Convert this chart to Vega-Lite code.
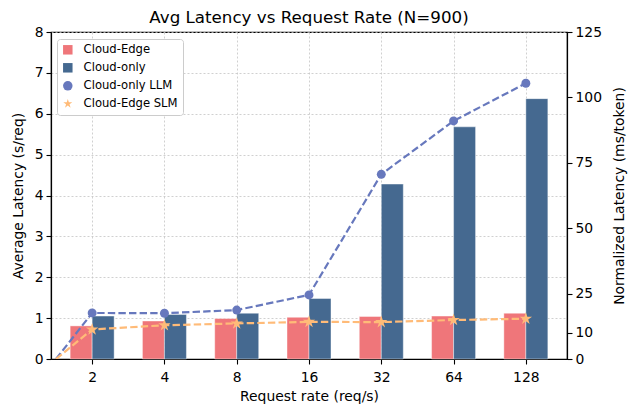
{
  "$schema": "https://vega.github.io/schema/vega-lite/v6.json",
  "width": 516,
  "height": 327,
  "autosize": {"type": "none"},
  "padding": {"left": 51, "top": 32, "right": 70, "bottom": 56},
  "background": "white",
  "title": {"text": "Avg Latency vs Request Rate (N=900)", "fontSize": 16.7, "font": "DejaVu Sans", "fontWeight": "normal", "offset": -2, "anchor": "middle", "color": "black"},
  "config": {
    "view": {"stroke": "black", "strokeWidth": 1.2},
    "axis": {"labelFont": "DejaVu Sans", "titleFont": "DejaVu Sans", "labelFontSize": 13.9, "titleFontSize": 13.9, "titleFontWeight": "normal", "labelColor": "black", "titleColor": "black", "domainColor": "black", "tickColor": "black", "tickSize": 5, "domainWidth": 1.2, "tickWidth": 1.1, "gridColor": "#c4c4c4", "gridDash": [2, 2], "gridWidth": 0.8, "labelPadding": 3}
  },
  "data": {"values": [
    {"rate": 2, "series": "Cloud-Edge", "value": 0.81},
    {"rate": 4, "series": "Cloud-Edge", "value": 0.93},
    {"rate": 8, "series": "Cloud-Edge", "value": 0.99},
    {"rate": 16, "series": "Cloud-Edge", "value": 1.02},
    {"rate": 32, "series": "Cloud-Edge", "value": 1.04},
    {"rate": 64, "series": "Cloud-Edge", "value": 1.05},
    {"rate": 128, "series": "Cloud-Edge", "value": 1.12},
    {"rate": 2, "series": "Cloud-only", "value": 1.05},
    {"rate": 4, "series": "Cloud-only", "value": 1.09},
    {"rate": 8, "series": "Cloud-only", "value": 1.12},
    {"rate": 16, "series": "Cloud-only", "value": 1.48},
    {"rate": 32, "series": "Cloud-only", "value": 4.28},
    {"rate": 64, "series": "Cloud-only", "value": 5.68},
    {"rate": 128, "series": "Cloud-only", "value": 6.37},
    {"rate": 1.41421, "series": "Cloud-only LLM", "value": 0},
    {"rate": 2, "series": "Cloud-only LLM", "value": 17.6},
    {"rate": 4, "series": "Cloud-only LLM", "value": 17.5},
    {"rate": 8, "series": "Cloud-only LLM", "value": 18.7},
    {"rate": 16, "series": "Cloud-only LLM", "value": 24.5},
    {"rate": 32, "series": "Cloud-only LLM", "value": 70.6},
    {"rate": 64, "series": "Cloud-only LLM", "value": 91.0},
    {"rate": 128, "series": "Cloud-only LLM", "value": 105.4},
    {"rate": 1.41421, "series": "Cloud-Edge SLM", "value": 0},
    {"rate": 2, "series": "Cloud-Edge SLM", "value": 11.3},
    {"rate": 4, "series": "Cloud-Edge SLM", "value": 12.9},
    {"rate": 8, "series": "Cloud-Edge SLM", "value": 13.6},
    {"rate": 16, "series": "Cloud-Edge SLM", "value": 14.2},
    {"rate": 32, "series": "Cloud-Edge SLM", "value": 14.1},
    {"rate": 64, "series": "Cloud-Edge SLM", "value": 14.9},
    {"rate": 128, "series": "Cloud-Edge SLM", "value": 15.4}
  ]},
  "encoding": {
    "x": {"field": "rate", "type": "quantitative",
      "scale": {"type": "log", "base": 2, "domain": [1.41421, 181.019], "nice": false, "zero": false},
      "axis": {"title": "Request rate (req/s)", "values": [2, 4, 8, 16, 32, 64, 128], "format": "d", "grid": true, "labelPadding": 6, "titlePadding": 6}},
    "color": {"field": "series", "type": "nominal",
      "scale": {"domain": ["Cloud-Edge", "Cloud-only", "Cloud-only LLM", "Cloud-Edge SLM"], "range": ["#ef767a", "#456990", "#6778bd", "#ffbb78"]},
      "legend": {"title": null, "orient": "none", "legendX": 6, "legendY": 7, "fillColor": "white", "strokeColor": "#cccccc", "cornerRadius": 3, "padding": 5, "labelFont": "DejaVu Sans", "labelFontSize": 11.6, "labelColor": "black", "symbolSize": 90, "rowPadding": 5, "labelOffset": 10, "symbolStrokeWidth": 0, "symbolOpacity": 1}}
  },
  "layer": [
    {
      "encoding": {
        "y": {"field": "value", "type": "quantitative",
          "scale": {"domain": [0, 8], "nice": false},
          "axis": {"orient": "left", "title": "Average Latency (s/req)", "values": [0, 1, 2, 3, 4, 5, 6, 7, 8], "grid": true, "titlePadding": 9}}
      },
      "layer": [
        {"transform": [{"filter": "datum.series === 'Cloud-Edge'"}],
         "mark": {"type": "bar", "size": 22, "xOffset": -11, "stroke": "white", "strokeWidth": 0.6, "strokeOpacity": 0.7}},
        {"transform": [{"filter": "datum.series === 'Cloud-only'"}],
         "mark": {"type": "bar", "size": 22, "xOffset": 11, "stroke": "white", "strokeWidth": 0.6, "strokeOpacity": 0.7}}
      ]
    },
    {
      "encoding": {
        "y": {"field": "value", "type": "quantitative",
          "scale": {"domain": [0, 125], "nice": false},
          "axis": {"orient": "right", "title": "Normalized Latency (ms/token)", "values": [0, 10, 25, 50, 75, 100, 125], "grid": false, "titleAngle": -90, "titlePadding": 25}}
      },
      "layer": [
        {"transform": [{"filter": "datum.series === 'Cloud-only LLM' || datum.series === 'Cloud-Edge SLM'"}],
         "mark": {"type": "line", "strokeWidth": 2.2, "strokeDash": [7.4, 3.2], "clip": true}},
        {"transform": [{"filter": "(datum.series === 'Cloud-only LLM' || datum.series === 'Cloud-Edge SLM') && datum.rate >= 2"}],
         "mark": {"type": "point", "filled": true, "opacity": 1},
         "encoding": {
           "shape": {"field": "series", "type": "nominal",
             "scale": {"domain": ["Cloud-Edge", "Cloud-only", "Cloud-only LLM", "Cloud-Edge SLM"], "range": ["square", "square", "circle", "M0,-1L0.2245,-0.309L0.9511,-0.309L0.3633,0.118L0.5878,0.809L0,0.382L-0.5878,0.809L-0.3633,0.118L-0.9511,-0.309L-0.2245,-0.309Z"]},
             "legend": {"title": null, "orient": "none", "legendX": 6, "legendY": 7, "fillColor": "white", "strokeColor": "#cccccc", "cornerRadius": 3, "padding": 5, "labelFont": "DejaVu Sans", "labelFontSize": 11.6, "labelColor": "black", "symbolSize": 90, "rowPadding": 5, "labelOffset": 10, "symbolStrokeWidth": 0, "symbolOpacity": 1}},
           "size": {"field": "series", "type": "nominal", "scale": {"domain": ["Cloud-only LLM", "Cloud-Edge SLM"], "range": [80, 170]}, "legend": null}
         }}
      ]
    }
  ],
  "resolve": {"scale": {"y": "independent"}}
}
